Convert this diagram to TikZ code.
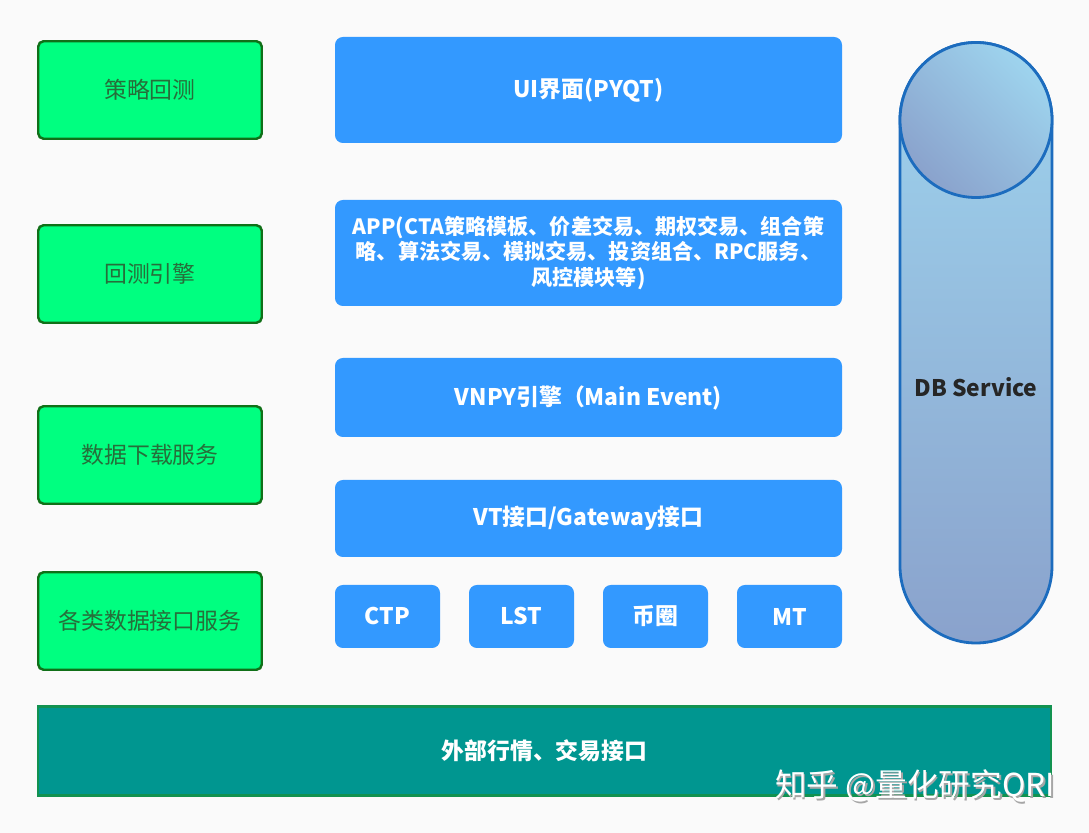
\documentclass[tikz,border=0pt]{standalone}
\usepackage{fontspec}
\setmainfont{Noto Sans CJK SC}
\usepackage{tikz}
\usetikzlibrary{positioning}
\definecolor{bgcol}{RGB}{250,250,250}
\definecolor{gfill}{RGB}{0,255,128}
\definecolor{gdraw}{RGB}{16,112,24}
\definecolor{gtext}{RGB}{38,110,58}
\definecolor{bfill}{RGB}{51,153,255}
\definecolor{tfill}{RGB}{0,150,144}
\definecolor{tdraw}{RGB}{18,146,80}
\definecolor{cdraw}{RGB}{28,108,190}
\definecolor{clight}{RGB}{158,212,238}
\definecolor{cdark}{RGB}{138,162,204}
\tikzset{
  module/.style = {align=center, inner sep=0pt, outer sep=0pt,
    font=\fontsize{13}{14.5}\selectfont},
  gmodule/.style = {module, rectangle, rounded corners=3pt, fill=gfill, draw=gdraw, line width=1.4pt, text=gtext, minimum width=4.47cm, minimum height=1.95cm},% colonne gauche
  bmodule/.style = {module, rectangle, rounded corners=4.5pt, fill=bfill, text=white, font=\bfseries\fontsize{13}{14.5}\selectfont, minimum width=10.14cm},% colonne du milieu
  gw/.style = {bmodule, minimum width=2.1cm, minimum height=1.26cm},% passerelles
}

\begin{document}
\begin{tikzpicture}
\fill [bgcol] (0,0) rectangle (21.78,-16.66);
% colonne gauche
\node [gmodule] (backtest) at (3.0,-1.8) {策略回测};
\node [gmodule] (btengine) at (3.0,-5.48) {回测引擎};
\node [gmodule] (download) at (3.0,-9.1) {数据下载服务};
\node [gmodule] (datafeed) at (3.0,-12.42) {各类数据接口服务};
% colonne du milieu
\node [bmodule, minimum height=2.12cm] (ui) at (11.77,-1.8) {UI界面(PYQT)};
\node [bmodule, minimum height=2.12cm, font=\bfseries\fontsize{12}{14.5}\selectfont] (app) at (11.77,-5.06)
  {APP(CTA策略模板、价差交易、期权交易、组合策\\略、算法交易、模拟交易、投资组合、RPC服务、\\风控模块等)};
\node [bmodule, minimum height=1.58cm] (engine) at (11.77,-7.95) {VNPY引擎（Main Event)};
\node [bmodule, minimum height=1.54cm] (gateway) at (11.77,-10.37) {VT接口/Gateway接口};
\node [gw, below=0.56cm of gateway.south west, anchor=north west] (ctp) {CTP};
\node [gw, right=0.58cm of ctp] (lst) {LST};
\node [gw, right=0.58cm of lst] (coin) {币圈};
\node [gw, right=0.58cm of coin] (mt) {MT};
% base
\shadedraw [top color=clight, bottom color=cdark, draw=cdraw, line width=1.6pt]
  (18.0,-2.4) -- (18.0,-11.32)
  arc [start angle=180, end angle=360, x radius=1.52cm, y radius=1.54cm]
  -- (21.04,-2.4)
  arc [start angle=0, end angle=180, x radius=1.52cm, y radius=1.55cm] -- cycle;
\shadedraw [top color=clight, bottom color=cdark, shading angle=-45, draw=cdraw, line width=1.6pt]
  (19.52,-2.4) ellipse [x radius=1.52cm, y radius=1.55cm];
\node [module, font=\bfseries\fontsize{13}{14.5}\selectfont, text=black!85] (db) at (19.52,-7.74) {DB Service};
% bas
\node [module, fill=tfill, draw=tdraw, line width=1.2pt, minimum width=20.27cm, minimum height=1.78cm,
  text=white, font=\bfseries\fontsize{13}{14.5}\selectfont] (market) at (10.89,-15.02) {外部行情、交易接口};
\node [anchor=west, inner sep=0pt, text=black!35, font=\fontsize{18}{18}\selectfont] (markshadow) at (15.53,-15.76) {知乎 @量化研究QRI};
\node [anchor=west, inner sep=0pt, text=white, font=\fontsize{18}{18}\selectfont] (mark) at (15.5,-15.72) {知乎 @量化研究QRI};
\end{tikzpicture}
\end{document}
